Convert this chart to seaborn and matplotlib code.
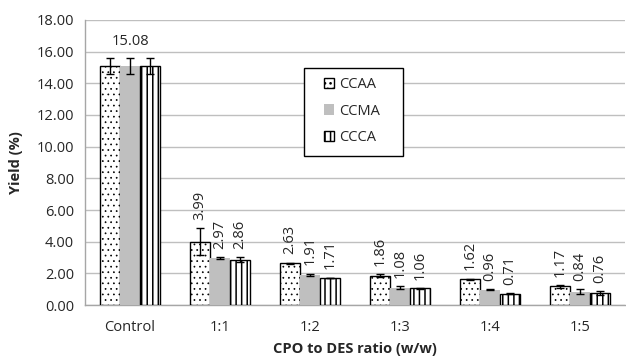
import pandas as pd
import matplotlib
matplotlib.use("Agg")
import matplotlib.pyplot as plt
import matplotlib.patches as mpatches
import seaborn as sns
import numpy as np

# data
ratios = ["Control", "1:1", "1:2", "1:3", "1:4", "1:5"]
series = ["CCAA", "CCMA", "CCCA"]
ccaa = [15.08, 3.99, 2.63, 1.86, 1.62, 1.17]
ccma = [15.08, 2.97, 1.91, 1.08, 0.96, 0.84]
ccca = [15.08, 2.86, 1.71, 1.06, 0.71, 0.76]
ccaa_err = [0.50, 0.85, 0.05, 0.08, 0.04, 0.10]
ccma_err = [0.50, 0.05, 0.06, 0.10, 0.03, 0.15]
ccca_err = [0.50, 0.15, 0.02, 0.02, 0.03, 0.10]
yticks = np.arange(0, 18.01, 2)

values = [ccaa, ccma, ccca]
errors = [ccaa_err, ccma_err, ccca_err]
df = pd.DataFrame({
    "ratio": ratios * 3,
    "series": np.repeat(series, len(ratios)),
    "yield": ccaa + ccma + ccca,
})

sns.set_style("white")
plt.rcParams["font.family"] = ["Open Sans", "DejaVu Sans"]
plt.rcParams["hatch.linewidth"] = 1.1
FS = 10.5

fig = plt.figure(figsize=(6.26, 3.59), dpi=100)
ax = fig.add_axes([0.1358, 0.1504, 0.8626, 0.7939])

styles = {
    "CCAA": dict(fc="white", ec="black", hatch="...", hlw=0.5),
    "CCMA": dict(fc="#BFBFBF", ec="none", hatch=None, hlw=1.1),
    "CCCA": dict(fc="white", ec="black", hatch="|||", hlw=1.1),
}

sns.barplot(data=df, x="ratio", y="yield", hue="series", order=ratios,
            hue_order=series, width=0.667, gap=0, errorbar=None,
            ax=ax, legend=False, zorder=3)


def style_patch(p, st):
    p.set_facecolor(st["fc"])
    p.set_edgecolor(st["ec"])
    p.set_linewidth(1.0)
    if st["hatch"]:
        p.set_hatch(st["hatch"])
        if hasattr(p, "set_hatch_linewidth"):
            p.set_hatch_linewidth(st["hlw"])


for cont, name, vals, errs in zip(ax.containers, series, values, errors):
    st = styles[name]
    xs = []
    for bar in cont:
        style_patch(bar, st)
        xs.append(bar.get_x() + bar.get_width() / 2)
    ax.errorbar(xs, vals, yerr=errs, fmt="none", ecolor="black",
                elinewidth=1.0, capsize=3, capthick=1.0, zorder=4)
    for i, (x, v, e) in enumerate(zip(xs, vals, errs)):
        if i == 0:
            if name == "CCMA":
                ax.annotate(f"{v:.2f}", (x, v + e), xytext=(0, 7),
                            textcoords="offset points", ha="center",
                            va="bottom", fontsize=FS)
            continue
        ax.annotate(f"{v:.2f}", (x, v + e), xytext=(0, 6),
                    textcoords="offset points", ha="center", va="bottom",
                    rotation=90, fontsize=FS)

ax.set_xlim(-0.5, len(ratios) - 0.5)
ax.set_ylim(0, 18)
ax.set_yticks(yticks)
ax.set_yticklabels([f"{t:.2f}" for t in yticks], fontsize=FS)
ax.tick_params(axis="x", which="major", length=0, labelsize=FS, pad=11)
ax.set_xticks(np.arange(-0.5, len(ratios)), minor=True)
ax.tick_params(axis="x", which="minor", length=5, color="#A6A6A6", width=1)
ax.tick_params(axis="y", length=4, color="#A6A6A6", width=1, pad=4)

ax.grid(axis="y", color="#BFBFBF", linewidth=1.0, zorder=0)
ax.set_axisbelow(True)
for s in ["top", "right"]:
    ax.spines[s].set_visible(False)
for s in ["left", "bottom"]:
    ax.spines[s].set_color("#A6A6A6")
    ax.spines[s].set_linewidth(1.0)

ax.set_xlabel("CPO to DES ratio (w/w)", fontsize=FS, fontweight="bold", labelpad=5)
ax.set_ylabel("Yield (%)", fontsize=FS, fontweight="bold", labelpad=10)

# legend frame drawn separately so its padding can match the original
ax.add_patch(mpatches.Rectangle((0.4056, 0.5228), 0.1834, 0.3088,
                                transform=ax.transAxes, facecolor="white",
                                edgecolor="black", linewidth=1.0, zorder=5))
handles = []
for n in series:
    h = mpatches.Patch(label=n)
    style_patch(h, styles[n])
    handles.append(h)
leg = ax.legend(handles=handles, loc="upper left", bbox_to_anchor=(0.442, 0.80),
                frameon=False, fontsize=FS,
                handlelength=0.7, handleheight=0.7, handletextpad=0.35,
                labelspacing=0.8, borderpad=0, borderaxespad=0)
leg.set_zorder(6)

plt.savefig("out.png", dpi=100)
